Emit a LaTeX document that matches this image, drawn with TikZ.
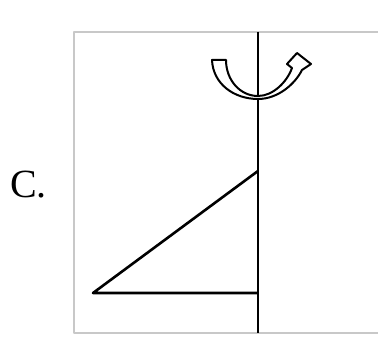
\documentclass[tikz,border=0pt]{standalone}
\usepackage{fontspec}
\setmainfont{Liberation Serif}
\usepackage{xcolor}
\usepackage{tikz}
\usetikzlibrary{arrows.meta, positioning}
\definecolor{frameGray}{RGB}{200, 200, 200}

\begin{document}
\begin{tikzpicture}[x=1pt, y=-1pt, line join=round]
    \useasboundingbox (0,0) rectangle (378,358);
    % frame, open at the right
    \draw[frameGray, line width=1.3pt] (380,32) -- (74,32) -- (74,333) -- (380,333);
    % axis of rotation
    \coordinate (axTop) at (258,32);
    \coordinate (axBot) at (258,333);
    \draw[line width=2.6pt] (axTop) -- (axBot);
    % triangle
    \coordinate (apex) at (258,171);
    \coordinate (foot) at (258,293);
    \coordinate (tip) at (93,293);
    \draw[line width=2.6pt] (apex) -- (tip) -- (foot);
    % hollow turning arrow
    \draw[line width=2pt, fill=white]
        (212,60) .. controls (213,84) and (234,99) .. (258,99)
        .. controls (278,99) and (295,84) .. (302,70)
        -- (311,64) -- (297,53) -- (287,64) -- (292,68)
        .. controls (287,82) and (273,96) .. (258,96)
        .. controls (240,96) and (226,80) .. (226,60) -- cycle;
    \node[anchor=base west, inner sep=0pt, font=\fontsize{40}{48}\selectfont] (lbl) at (10,198) {C.};
\end{tikzpicture}
\end{document}
